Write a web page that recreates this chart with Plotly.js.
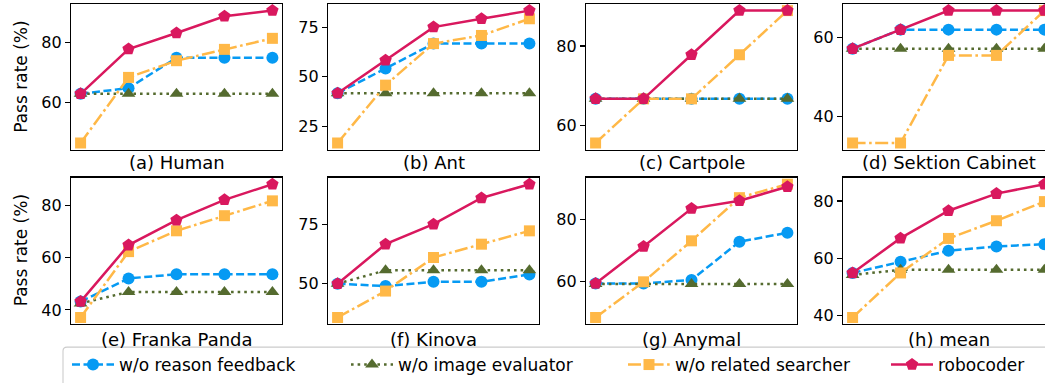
<!DOCTYPE html>
<html><head><meta charset="utf-8">
<script src="https://cdn.plot.ly/plotly-3.0.1.min.js"></script>
<style>html,body{margin:0;padding:0;background:#fff}#chart{width:1045px;height:383px}</style>
</head><body><div id="chart"></div>
<script>
// ---------------- data ----------------
const iterations = [0, 1, 2, 3, 4];
const panelTitles = ['(a) Human', '(b) Ant', '(c) Cartpole', '(d) Sektion Cabinet',
                     '(e) Franka Panda', '(f) Kinova', '(g) Anymal', '(h) mean'];
const seriesNames = ['w/o reason feedback', 'w/o image evaluator', 'w/o related searcher', 'robocoder'];
const yTickStep = [20, 25, 20, 20, 20, 25, 20, 20];

// one row per panel (a..h), five iterations each
const woReasonFeedback = [
  [62.9, 64.8, 75.0, 75.0, 75.0],
  [41.7, 54.2, 66.7, 66.7, 66.7],
  [66.7, 66.7, 66.7, 66.7, 66.7],
  [57.1, 61.9, 61.9, 61.9, 61.9],
  [43.2, 52.1, 53.7, 53.7, 53.7],
  [50.0, 49.0, 50.8, 50.8, 53.9],
  [59.5, 59.5, 60.6, 72.8, 75.7],
  [54.8, 58.7, 62.6, 64.1, 64.9]
];
const woImageEvaluator = [
  [62.9, 62.9, 62.9, 62.9, 62.9],
  [41.7, 41.7, 41.7, 41.7, 41.7],
  [66.7, 66.7, 66.7, 66.7, 66.7],
  [57.1, 57.1, 57.1, 57.1, 57.1],
  [42.5, 46.9, 46.9, 46.9, 46.9],
  [50.0, 55.6, 55.6, 55.6, 55.6],
  [59.3, 59.3, 59.3, 59.3, 59.3],
  [54.1, 55.9, 55.9, 55.9, 55.9]
];
const woRelatedSearcher = [
  [46.4, 68.4, 74.0, 77.8, 81.5],
  [16.7, 45.8, 66.7, 70.8, 79.2],
  [55.6, 66.7, 66.7, 77.8, 88.9],
  [33.3, 33.3, 55.4, 55.4, 66.7],
  [37.1, 62.4, 70.4, 76.2, 81.9],
  [35.8, 46.9, 61.0, 66.6, 72.2],
  [48.6, 60.0, 73.1, 86.9, 91.2],
  [39.2, 54.8, 66.9, 73.1, 79.8]
];
const robocoder = [
  [62.9, 77.9, 83.3, 88.9, 90.8],
  [41.7, 58.3, 75.0, 79.2, 83.3],
  [66.7, 66.7, 77.8, 88.9, 88.9],
  [57.1, 61.9, 66.7, 66.7, 66.7],
  [43.2, 64.9, 74.5, 82.3, 88.3],
  [50.0, 66.6, 75.0, 86.0, 91.8],
  [59.5, 71.3, 83.4, 85.9, 90.4],
  [54.8, 67.0, 76.6, 82.6, 85.9]
];

// ---------------- styles ----------------
const allSeries = [woReasonFeedback, woImageEvaluator, woRelatedSearcher, robocoder];
const colors = ['#069AF3', '#556B2F', '#FFB847', '#D9185E'];
const dashes = ['8px,3.5px', '2.6px,4px', '13px,3.5px,2.6px,3.5px', 'solid'];
const symbols = ['circle', 'triangle-up', 'square', 'pentagon'];
const sizes = [12, 12, 11, 13];

const W = 1045, H = 383;
const colLeft = [71, 328, 586, 843];
const axW = 211;
const rowTop = [4, 178], rowBot = [150, 325];
const pxPerUnit = axW / 4.4;

const traces = [];
const layout = {
  width: W, height: H,
  margin: {l: 0, r: 0, t: 0, b: 0},
  paper_bgcolor: '#fff', plot_bgcolor: '#fff',
  font: {family: 'DejaVu Sans, sans-serif', color: '#000'},
  annotations: [], shapes: []
};

for (let p = 0; p < 8; p++) {
  const col = p % 4, row = Math.floor(p / 4);
  const suffix = p === 0 ? '' : String(p + 1);
  const x0 = colLeft[col], x1 = Math.min(colLeft[col] + axW, W);
  const xMax = -0.2 + (x1 - x0) / pxPerUnit;
  let lo = Infinity, hi = -Infinity;
  allSeries.forEach(s => s[p].forEach(v => { lo = Math.min(lo, v); hi = Math.max(hi, v); }));
  const pad = 0.05 * (hi - lo);
  const clipped = x1 < colLeft[col] + axW;

  layout['xaxis' + suffix] = {
    domain: [x0 / W, x1 / W], range: [-0.2, xMax], anchor: 'y' + suffix,
    showticklabels: false, ticks: '', showgrid: false, zeroline: false,
    showline: true, mirror: true, linecolor: '#000', linewidth: 1.1, fixedrange: true
  };
  layout['yaxis' + suffix] = {
    domain: [1 - rowBot[row] / H, 1 - rowTop[row] / H], range: [lo - pad, hi + pad],
    anchor: 'x' + suffix, tick0: 0, dtick: yTickStep[p],
    ticks: 'outside', ticklen: 5, tickwidth: 1.1, tickcolor: '#000',
    tickfont: {size: 16, color: '#000'}, showgrid: false, zeroline: false,
    showline: true, mirror: clipped ? false : true, linecolor: '#000', linewidth: 1.1,
    fixedrange: true
  };

  allSeries.forEach((s, i) => {
    traces.push({
      x: iterations, y: s[p], name: seriesNames[i],
      xaxis: 'x' + suffix, yaxis: 'y' + suffix,
      mode: 'lines+markers', cliponaxis: false,
      line: {color: colors[i], width: 2.5, dash: dashes[i]},
      marker: {symbol: symbols[i], size: sizes[i], color: colors[i], line: {width: 0}},
      showlegend: p === 0,
      legend: i === 0 ? 'legend' : 'legend' + (i + 1)
    });
  });

  layout.annotations.push({
    text: panelTitles[p], xref: 'paper', yref: 'paper',
    x: (colLeft[col] + axW / 2) / W, y: 1 - (row === 0 ? 163 : 340) / H,
    xanchor: 'center', yanchor: 'middle', showarrow: false,
    font: {size: 18, color: '#000'}
  });
}

[77, 251].forEach(yc => {
  layout.annotations.push({
    text: 'Pass rate (%)', xref: 'paper', yref: 'paper', x: 21 / W, y: 1 - yc / H,
    xanchor: 'center', yanchor: 'middle', textangle: -90, showarrow: false,
    font: {size: 17, color: '#000'}
  });
});

// legend: one entry per legend object, placed along a row inside a framed box
const legendTextX = [121, 400, 677, 940];
legendTextX.forEach((tx, i) => {
  layout[i === 0 ? 'legend' : 'legend' + (i + 1)] = {
    x: (tx - 54) / W, y: 1 - 366 / H, xanchor: 'left', yanchor: 'middle',
    orientation: 'h', bgcolor: 'rgba(0,0,0,0)', borderwidth: 0,
    itemwidth: 42, font: {size: 17, color: '#000'}, itemclick: false
  };
});
const bx0 = 63 / W, bx1 = 1060 / W, by1 = 1 - 348 / H, by0 = -0.05, rx = 4 / W, ry = 4 / H;
layout.shapes.push({
  type: 'path', xref: 'paper', yref: 'paper', layer: 'below',
  path: `M ${bx0} ${by0} L ${bx0} ${by1 - ry} Q ${bx0} ${by1} ${bx0 + rx} ${by1} L ${bx1} ${by1} L ${bx1} ${by0} Z`,
  line: {color: '#cccccc', width: 1.1}, fillcolor: 'rgba(255,255,255,0.8)'
});

Plotly.newPlot('chart', traces, layout, {staticPlot: true, displayModeBar: false});
</script>
</body></html>
